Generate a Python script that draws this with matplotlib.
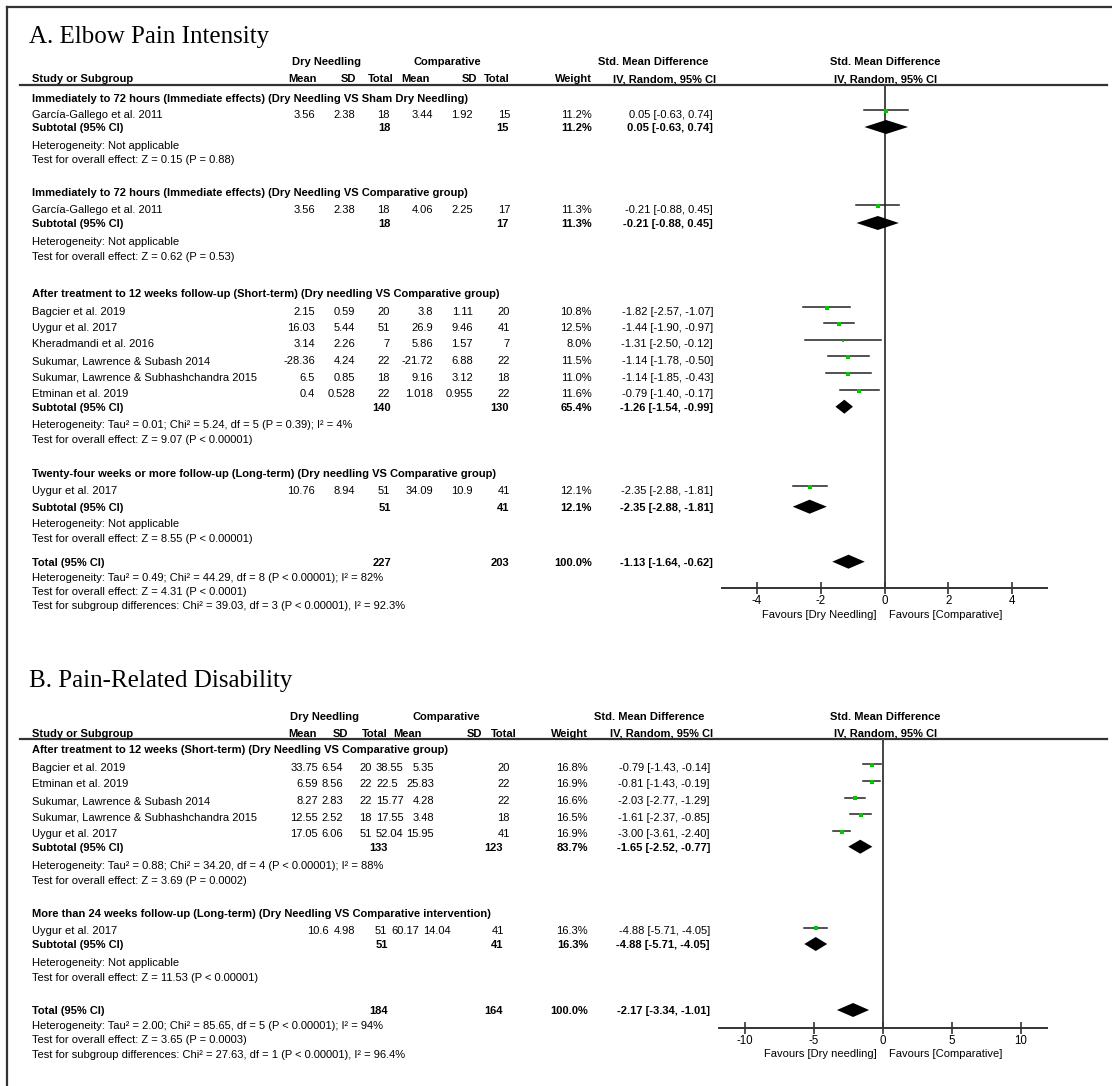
import numpy as np
import matplotlib.pyplot as plt

plt.rcParams['font.family'] = ['Liberation Sans', 'DejaVu Sans']
plt.rcParams['axes.unicode_minus'] = False

# ---------------- A. Elbow Pain Intensity ----------------
a_groups = ["Immediately to 72 hours (Immediate effects) (Dry Needling VS Sham Dry Needling)",
            "Immediately to 72 hours (Immediate effects) (Dry Needling VS Comparative group)",
            "After treatment to 12 weeks follow-up (Short-term) (Dry needling VS Comparative group)",
            "Twenty-four weeks or more follow-up (Long-term) (Dry needling VS Comparative group)"]
a_study = ["García-Gallego et al. 2011", "García-Gallego et al. 2011", "Bagcier et al. 2019",
           "Uygur et al. 2017", "Kheradmandi et al. 2016", "Sukumar, Lawrence & Subash 2014",
           "Sukumar, Lawrence & Subhashchandra 2015", "Etminan et al. 2019", "Uygur et al. 2017"]
a_dn_mean = ["3.56", "3.56", "2.15", "16.03", "3.14", "-28.36", "6.5", "0.4", "10.76"]
a_dn_sd = ["2.38", "2.38", "0.59", "5.44", "2.26", "4.24", "0.85", "0.528", "8.94"]
a_dn_n = [18, 18, 20, 51, 7, 22, 18, 22, 51]
a_c_mean = ["3.44", "4.06", "3.8", "26.9", "5.86", "-21.72", "9.16", "1.018", "34.09"]
a_c_sd = ["1.92", "2.25", "1.11", "9.46", "1.57", "6.88", "3.12", "0.955", "10.9"]
a_c_n = [15, 17, 20, 41, 7, 22, 18, 22, 41]
a_weight = [11.2, 11.3, 10.8, 12.5, 8.0, 11.5, 11.0, 11.6, 12.1]
a_smd = [0.05, -0.21, -1.82, -1.44, -1.31, -1.14, -1.14, -0.79, -2.35]
a_lo = [-0.63, -0.88, -2.57, -1.90, -2.50, -1.78, -1.85, -1.40, -2.88]
a_hi = [0.74, 0.45, -1.07, -0.97, -0.12, -0.50, -0.43, -0.17, -1.81]
a_sub_dn_n = [18, 18, 140, 51]
a_sub_c_n = [15, 17, 130, 41]
a_sub_w = [11.2, 11.3, 65.4, 12.1]
a_sub_smd = [0.05, -0.21, -1.26, -2.35]
a_sub_lo = [-0.63, -0.88, -1.54, -2.88]
a_sub_hi = [0.74, 0.45, -0.99, -1.81]
a_het = ["Heterogeneity: Not applicable", "Heterogeneity: Not applicable",
         "Heterogeneity: Tau² = 0.01; Chi² = 5.24, df = 5 (P = 0.39); I² = 4%",
         "Heterogeneity: Not applicable"]
a_z = ["Test for overall effect: Z = 0.15 (P = 0.88)", "Test for overall effect: Z = 0.62 (P = 0.53)",
       "Test for overall effect: Z = 9.07 (P < 0.00001)", "Test for overall effect: Z = 8.55 (P < 0.00001)"]
a_total = [227, 203, 100.0, -1.13, -1.64, -0.62]
a_notes = ["Heterogeneity: Tau² = 0.49; Chi² = 44.29, df = 8 (P < 0.00001); I² = 82%",
           "Test for overall effect: Z = 4.31 (P < 0.0001)",
           "Test for subgroup differences: Chi² = 39.03, df = 3 (P < 0.00001), I² = 92.3%"]
a_ticks = [-4, -2, 0, 2, 4]

# ---------------- B. Pain-Related Disability ----------------
b_groups = ["After treatment to 12 weeks (Short-term) (Dry Needling VS Comparative group)",
            "More than 24 weeks follow-up (Long-term) (Dry Needling VS Comparative intervention)"]
b_study = ["Bagcier et al. 2019", "Etminan et al. 2019", "Sukumar, Lawrence & Subash 2014",
           "Sukumar, Lawrence & Subhashchandra 2015", "Uygur et al. 2017", "Uygur et al. 2017"]
b_dn_mean = ["33.75", "6.59", "8.27", "12.55", "17.05", "10.6"]
b_dn_sd = ["6.54", "8.56", "2.83", "2.52", "6.06", "4.98"]
b_dn_n = [20, 22, 22, 18, 51, 51]
b_c_mean = ["38.55", "22.5", "15.77", "17.55", "52.04", "60.17"]
b_c_sd = ["5.35", "25.83", "4.28", "3.48", "15.95", "14.04"]
b_c_n = [20, 22, 22, 18, 41, 41]
b_weight = [16.8, 16.9, 16.6, 16.5, 16.9, 16.3]
b_smd = [-0.79, -0.81, -2.03, -1.61, -3.00, -4.88]
b_lo = [-1.43, -1.43, -2.77, -2.37, -3.61, -5.71]
b_hi = [-0.14, -0.19, -1.29, -0.85, -2.40, -4.05]
b_sub_dn_n = [133, 51]
b_sub_c_n = [123, 41]
b_sub_w = [83.7, 16.3]
b_sub_smd = [-1.65, -4.88]
b_sub_lo = [-2.52, -5.71]
b_sub_hi = [-0.77, -4.05]
b_het = ["Heterogeneity: Tau² = 0.88; Chi² = 34.20, df = 4 (P < 0.00001); I² = 88%",
         "Heterogeneity: Not applicable"]
b_z = ["Test for overall effect: Z = 3.69 (P = 0.0002)", "Test for overall effect: Z = 11.53 (P < 0.00001)"]
b_total = [184, 164, 100.0, -2.17, -3.34, -1.01]
b_notes = ["Heterogeneity: Tau² = 2.00; Chi² = 85.65, df = 5 (P < 0.00001); I² = 94%",
           "Test for overall effect: Z = 3.65 (P = 0.0003)",
           "Test for subgroup differences: Chi² = 27.63, df = 1 (P < 0.00001), I² = 96.4%"]
b_ticks = [-10, -5, 0, 5, 10]

GREEN = '#00c800'
LINE = '#333333'
FS = 8.0
W, H = 1112, 1086

fig = plt.figure(figsize=(W / 100, H / 100), dpi=100)
ax = fig.add_axes([0, 0, 1, 1])
ax.set_xlim(0, W)
ax.set_ylim(H, 0)
ax.axis('off')


def txt(x, y, s, ha='left', bold=False):
    ax.text(x, y + 4, s, ha=ha, va='baseline', fontsize=FS,
            fontweight='bold' if bold else 'normal')


def ci_str(e, l, h):
    return f"{e:.2f} [{l:.2f}, {h:.2f}]"


def panel(title, d, L):
    ax.text(29, L['title'], title, fontsize=18, family='Liberation Serif', va='baseline')
    # column headers
    hy1, hy2 = L['head']
    txt(L['dn_c'], hy1, "Dry Needling", 'center', True)
    txt(L['c_c'], hy1, "Comparative", 'center', True)
    txt(L['smd_c'][0], hy1, "Std. Mean Difference", 'center', True)
    txt(885, hy1, "Std. Mean Difference", 'center', True)
    txt(32, hy2, "Study or Subgroup", bold=True)
    for k, s in zip(['h_dm', 'h_ds', 'h_dn', 'h_cm', 'h_cs', 'h_cn', 'h_w'],
                    ["Mean", "SD", "Total", "Mean", "SD", "Total", "Weight"]):
        x, ha = L[k]
        txt(x, hy2, s, ha, True)
    txt(L['smd_c'][1], hy2, "IV, Random, 95% CI", 'center', True)
    txt(886, hy2, "IV, Random, 95% CI", 'center', True)
    ax.plot([20, 1107], [L['line'], L['line']], color=LINE, lw=1.6)

    # forest axes
    x0, x1 = L['fx']
    y0, y1 = L['line'], L['axis']
    fa = fig.add_axes([x0 / W, 1 - y1 / H, (x1 - x0) / W, (y1 - y0) / H])
    fa.set_xlim(*L['xlim'])
    fa.set_ylim(y1, y0)
    fa.patch.set_alpha(0)
    for s in ['top', 'right', 'left']:
        fa.spines[s].set_visible(False)
    fa.spines['bottom'].set_color(LINE)
    fa.spines['bottom'].set_linewidth(1.4)
    fa.set_yticks([])
    fa.set_xticks(d['ticks'])
    fa.set_xticklabels([str(t) for t in d['ticks']])
    fa.tick_params(axis='x', direction='inout', length=9, width=1.2, colors=LINE,
                   labelcolor='black', labelsize=FS + 0.3, pad=0.5)
    fa.axvline(0, color='#444444', lw=1.4, zorder=1)

    def diamond(e, l, h, y):
        fa.fill([l, e, h, e], [y, y - 7, y, y + 7], color='black', lw=0, zorder=3)

    cols = L['cols']
    for i, name in enumerate(d['study']):
        y = L['study_y'][i]
        c = cols[L['colset'][i]]
        txt(32, y, name)
        txt(c['dm'][0], y, d['dn_mean'][i], c['dm'][1])
        txt(c['ds'][0], y, d['dn_sd'][i], c['ds'][1])
        txt(c['dn'][0], y, str(d['dn_n'][i]), c['dn'][1])
        txt(c['cm'][0], y, d['c_mean'][i], c['cm'][1])
        txt(c['cs'][0], y, d['c_sd'][i], c['cs'][1])
        txt(c['cn'][0], y, str(d['c_n'][i]), c['cn'][1])
        txt(L['w'], y, f"{d['weight'][i]:.1f}%", 'right')
        txt(L['ci'], y, ci_str(d['smd'][i], d['lo'][i], d['hi'][i]), 'right')
        ym = y - L['mark_off']
        fa.plot([d['lo'][i], d['hi'][i]], [ym, ym], color='#222222', lw=1.1, zorder=2)
        side = 10.5 * np.sqrt(d['weight'][i] / 100)
        fa.plot(d['smd'][i], ym + 0.8, marker='s', ms=side * 0.72, color=GREEN,
                mec=GREEN, mew=0, zorder=4)

    for g, gname in enumerate(d['groups']):
        txt(32, L['grp_y'][g], gname, bold=True)
        y = L['sub_y'][g]
        txt(32, y, "Subtotal (95% CI)", bold=True)
        txt(L['sub_dn'], y, str(d['sub_dn_n'][g]), 'right', True)
        txt(L['sub_cn'], y, str(d['sub_c_n'][g]), 'right', True)
        txt(L['w'], y, f"{d['sub_w'][g]:.1f}%", 'right', True)
        txt(L['ci'], y, ci_str(d['sub_smd'][g], d['sub_lo'][g], d['sub_hi'][g]), 'right', True)
        diamond(d['sub_smd'][g], d['sub_lo'][g], d['sub_hi'][g], y)
        txt(32, L['het_y'][g], d['het'][g])
        txt(32, L['z_y'][g], d['z'][g])

    t = d['total']
    y = L['total_y']
    txt(32, y, "Total (95% CI)", bold=True)
    txt(L['sub_dn'], y, str(t[0]), 'right', True)
    txt(L['sub_cn'], y, str(t[1]), 'right', True)
    txt(L['w'], y, f"{t[2]:.1f}%", 'right', True)
    txt(L['ci'], y, ci_str(t[3], t[4], t[5]), 'right', True)
    diamond(t[3], t[4], t[5], y)
    for s, yy in zip(d['notes'], L['notes_y']):
        txt(32, yy, s)
    txt(877, L['fav_y'], d['fav'][0], 'right')
    txt(889, L['fav_y'], d['fav'][1], 'left')


A = dict(groups=a_groups, study=a_study, dn_mean=a_dn_mean, dn_sd=a_dn_sd, dn_n=a_dn_n,
         c_mean=a_c_mean, c_sd=a_c_sd, c_n=a_c_n, weight=a_weight, smd=a_smd, lo=a_lo, hi=a_hi,
         sub_dn_n=a_sub_dn_n, sub_c_n=a_sub_c_n, sub_w=a_sub_w, sub_smd=a_sub_smd,
         sub_lo=a_sub_lo, sub_hi=a_sub_hi, het=a_het, z=a_z, total=a_total, notes=a_notes,
         ticks=a_ticks, fav=["Favours [Dry Needling]", "Favours [Comparative]"])
B = dict(groups=b_groups, study=b_study, dn_mean=b_dn_mean, dn_sd=b_dn_sd, dn_n=b_dn_n,
         c_mean=b_c_mean, c_sd=b_c_sd, c_n=b_c_n, weight=b_weight, smd=b_smd, lo=b_lo, hi=b_hi,
         sub_dn_n=b_sub_dn_n, sub_c_n=b_sub_c_n, sub_w=b_sub_w, sub_smd=b_sub_smd,
         sub_lo=b_sub_lo, sub_hi=b_sub_hi, het=b_het, z=b_z, total=b_total, notes=b_notes,
         ticks=b_ticks, fav=["Favours [Dry needling]", "Favours [Comparative]"])

colsA = dict(dm=(315, 'right'), ds=(355, 'right'), dn=(390, 'right'),
             cm=(433, 'right'), cs=(473, 'right'), cn=(510, 'right'))
LA = dict(title=43.5, head=(61, 78), line=85, fx=(722, 1047), axis=588, xlim=(-5.1, 5.1),
          dn_c=327, c_c=447, smd_c=(653, 665),
          h_dm=(317, 'right'), h_ds=(356, 'right'), h_dn=(394, 'right'), h_cm=(430, 'right'),
          h_cs=(477, 'right'), h_cn=(510, 'right'), h_w=(592, 'right'),
          cols=[colsA], colset=[0] * 9, w=592, ci=713, sub_dn=391, sub_cn=509, mark_off=3.5,
          grp_y=[97.5, 192, 293, 473.3],
          study_y=[113.5, 209, 311, 327, 343.3, 360, 376.7, 393.3, 490],
          sub_y=[127, 223, 406.7, 506.7], het_y=[145, 241, 424, 523.3],
          z_y=[159.3, 256, 438.7, 538.3], total_y=561.7, notes_y=[576.7, 590.7, 605],
          fav_y=614)

colsB_short = dict(dm=(318, 'right'), ds=(343, 'right'), dn=(372, 'right'),
                   cm=(376, 'left'), cs=(434, 'right'), cn=(510, 'right'))
colsB_long = dict(dm=(329, 'right'), ds=(355, 'right'), dn=(387, 'right'),
                  cm=(391, 'left'), cs=(451, 'right'), cn=(504, 'right'))
LB = dict(title=686.5, head=(716, 733), line=739, fx=(719, 1047), axis=1028, xlim=(-11.9, 11.9),
          dn_c=325, c_c=446, smd_c=(649, 661.5),
          h_dm=(317, 'right'), h_ds=(348, 'right'), h_dn=(388, 'right'), h_cm=(393, 'left'),
          h_cs=(482, 'right'), h_cn=(517, 'right'), h_w=(588, 'right'),
          cols=[colsB_short, colsB_long], colset=[0, 0, 0, 0, 0, 1], w=588, ci=710,
          sub_dn=388, sub_cn=503, mark_off=2.5,
          grp_y=[749.3, 912.7],
          study_y=[766.7, 783.3, 800, 816.7, 833.3, 930],
          sub_y=[846.7, 944], het_y=[865, 961.7], z_y=[880, 976.7], total_y=1010,
          notes_y=[1025, 1039.3, 1054], fav_y=1053.3)

panel("A. Elbow Pain Intensity", A, LA)
panel("B. Pain-Related Disability", B, LB)

# outer frame (left and top edges only)
ax.plot([7, 7], [7, H], color=LINE, lw=1.6)
ax.plot([7, W], [7, 7], color=LINE, lw=1.6)

fig.savefig('out.png', dpi=100)
